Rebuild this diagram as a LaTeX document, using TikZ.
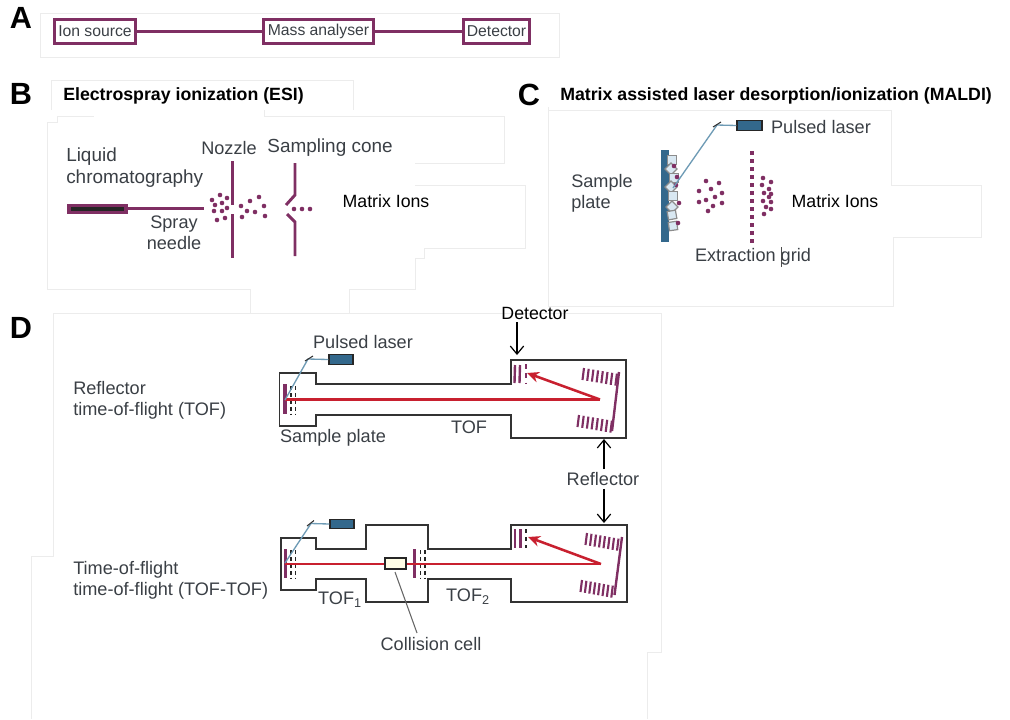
\documentclass[tikz,border=0pt]{standalone}
\usepackage{fontspec}
\setmainfont{Liberation Sans}
\usetikzlibrary{arrows.meta}
\definecolor{plum}{HTML}{7F2F63}
\definecolor{ink}{HTML}{3A3F45}
\definecolor{teal}{HTML}{33688C}
\definecolor{lasr}{HTML}{6E9BB5}
\definecolor{rayred}{HTML}{C8202F}
\definecolor{mask}{HTML}{ECECEC}
\definecolor{wall}{HTML}{333333}
\definecolor{pale}{HTML}{D9E8F2}
\tikzset{
  lab/.style={font=\fontsize{13.6pt}{16pt}\selectfont,text=ink,inner sep=0pt,align=left},
  labb/.style={font=\fontsize{14.2pt}{16.5pt}\selectfont,text=ink,inner sep=0pt,align=left},
  blk/.style={font=\fontsize{13.3pt}{16pt}\selectfont,text=black,inner sep=0pt},
  ttl/.style={font=\bfseries\fontsize{13.3pt}{15pt}\selectfont,text=black,inner sep=0pt,anchor=west},
  pan/.style={font=\bfseries\fontsize{23pt}{25pt}\selectfont,text=black,inner sep=0pt},
  sbox/.style={draw=plum,line width=2.2pt,text=ink,inner sep=0pt,minimum height=17.6pt,font=\fontsize{11.8pt}{13pt}\selectfont},
  faint/.style={draw=mask,line width=0.7pt},
  pl/.style={draw=plum,line width=2.2pt},
  plt/.style={draw=plum,line width=1.8pt},
  wl/.style={draw=wall,line width=1.4pt},
  ray/.style={draw=rayred,line width=1.9pt},
  rayt/.style={draw=rayred,line width=1.6pt},
  beam/.style={draw=lasr,line width=1pt},
  arr/.style={draw=black,line width=0.9pt,-{Straight Barb[length=6pt,width=10pt,line width=0.9pt]}},
  tickm/.style={draw=plum,line width=1.6pt},
  lasbox/.style={draw=black!85,line width=1pt,fill=teal,minimum width=18pt,minimum height=7.2pt,inner sep=0pt},
  dg/.style={draw=black!85,line width=1.4pt,dash pattern=on 3pt off 2.2pt},
}
\newcommand{\mydots}[1]{\foreach \a/\b in {#1}{\fill[plum] (\a,\b) circle (2.3);}}
\begin{document}
\begin{tikzpicture}[x=0.75pt,y=-0.75pt]
\useasboundingbox (0,0) rectangle (1010,719);
% faint mask outlines
\draw[faint] (40,57) -- (40,13) -- (559,13) -- (559,57) -- cycle;
\draw[faint] (51,110) -- (51,80) -- (353,80) -- (353,110);
\draw[faint] (94,116) -- (57,116) -- (57,122) -- (47,122) -- (47,289) -- (250,289) -- (250,313);
\draw[faint] (264,110) -- (264,116) -- (504,116) -- (504,163) -- (415,163);
\draw[faint] (415,185) -- (525,185) -- (525,248) -- (424,248) -- (424,258) -- (415,258) -- (415,289) -- (349,289) -- (349,313);
\draw[faint] (548,107) -- (548,306) -- (893,306) -- (893,237) -- (981,237) -- (981,185) -- (891,185) -- (891,110) -- (548,110);
\draw[faint] (31,719) -- (31,556) -- (53,556) -- (53,313) -- (661,313) -- (661,652) -- (647,652) -- (647,719);
% panel letters
\node[pan] (pA) at (21,18) {A};
\node[pan] (pB) at (21,94) {B};
\node[pan] (pC) at (529,95) {C};
\node[pan] (pD) at (21,328) {D};
% A
\node[sbox,minimum width=61pt] (is) at (95,31.5) {Ion source};
\node[sbox,minimum width=82pt] (ma) at (318.5,31.5) {Mass analyser};
\node[sbox,minimum width=50pt] (de) at (496.5,31.5) {Detector};
\draw[pl] (is) -- (ma);
\draw[pl] (ma) -- (de);
% B
\node[ttl] (tb) at (63,95.5) {Electrospray ionization (ESI)};
\node[ttl] (tc) at (560,95.5) {Matrix assisted laser desorption/ionization (MALDI)};
\node[labb,anchor=west] (lc) at (66,168) {Liquid\\chromatography};
\node[lab] (noz) at (229,148) {Nozzle};
\node[labb] (sc) at (330,148) {Sampling cone};
\node[lab,align=center] (sn) at (174,233) {Spray\\needle};
\node[blk] (mi1) at (386,201) {Matrix Ions};
\fill[plum] (67,204) rectangle (128,214);
\fill[black!85] (71,207) rectangle (124,211);
\coordinate (n1) at (128,208.5);
\coordinate (n2) at (204,208.5);
\draw[pl,line width=2.4pt] (n1) -- (n2);
\draw[pl] (232.5,161) -- (232.5,205);
\draw[pl] (232.5,214) -- (232.5,258);
\draw[pl] (295,163) -- (295,195) -- (286,205);
\draw[pl] (287,214) -- (295,222) -- (295,256);
\mydots{220/195,227/198,212/200,222/203,215/205,227/208,222/211,214/211,217/220,225/218}
\mydots{241/206,250/201,259/197,264/206,247/211,255/212,242/217,265/216}
\mydots{294/209,302/209,310/209}
% C
\fill[teal] (660.5,150) rectangle (668.5,242);
\foreach \x/\y/\r in {672/160/0,671/169/45,674/178/0,671/187/45,673/196/0,672/207/45,672/215/10,673/226/8}{
  \draw[draw=black!45,line width=0.9pt,fill=pale,rotate around={\r:(\x,\y)}] (\x-4.2,\y-4.2) rectangle (\x+4.2,\y+4.2);}
\mydots{674/166,677/177,676/185,679/203,678/223}
\node[lasbox,minimum width=18.7pt] (L1) at (749.5,125.5) {};
\coordinate (m1) at (717,125);
\coordinate (t1) at (673,188);
\draw[beam] (L1.west) -- (m1) -- (t1);
\draw[black!80,line width=0.8pt] (713,127) -- (721,122);
\node[lab] (pl1) at (821,127) {Pulsed laser};
\node[lab,align=left,anchor=west] (sp) at (571,193.5) {Sample\\plate};
\node[lab] (eg) at (753,257) {Extraction grid};
\draw[black!70,line width=0.7pt] (781,247) -- (781,267);
\foreach \y in {153,161,...,243}{\fill[plum] (750,\y-1.8) rectangle (753.5,\y+1.8);}
\mydots{706/181,719/183,699/191,711/189,722/193,699/202,706/200,715/197,722/203,713/206,708/211}
\mydots{763/178,771/182,762/185,769/189,764/193,771/194,769/197,763/201,771/202,766/207,771/209,764/214}
\node[blk] (mi2) at (835,201) {Matrix Ions};
% D top
\node[lab,align=left,anchor=west] (rf) at (73,400) {Reflector\\time-of-flight (TOF)};
\node[lab] (pl2) at (363,342) {Pulsed laser};
\node[lab] (sp2) at (333,438) {Sample plate};
\node[lab] (tof) at (469,427) {TOF};
\node[blk] (det) at (535,313) {Detector};
\node[lab] (ref) at (603,479) {Reflector};
\coordinate (da) at (517,355);
\coordinate (rua) at (604,439);
\coordinate (rda) at (604,523);
\draw[arr] (da |- det.south) ++(0,3) -- (da);
\draw[arr] (rua |- ref.north) ++(0,-3) -- (rua);
\draw[arr] (rda |- ref.south) ++(0,3) -- (rda);
\draw[wl] (279.5,373) -- (316,373) -- (316,384) -- (511,384) -- (511,360) -- (626,360) -- (626,438) -- (511,438) -- (511,415) -- (316,415) -- (316,426) -- (279.5,426) -- cycle;
\fill[plum] (283,384) rectangle (286.5,414);
\draw[dg] (291,386) -- (291,414);
\draw[dg] (295.5,386) -- (295.5,414);
\coordinate (rs1) at (285,399.5);
\coordinate (rt1) at (600,399.5);
\draw[ray] (rs1) -- (rt1);
\node[lasbox] (L2) at (341,359.5) {};
\coordinate (m2) at (308,359);
\coordinate (t2) at (285,400);
\draw[beam] (L2.west) -- (m2) -- (t2);
\draw[black!80,line width=0.8pt] (305,361) -- (313,356);
\draw[plt] (515,365) -- (514.5,383);
\draw[plt] (520,365) -- (519.5,383);
\draw[plum,line width=2pt,dash pattern=on 3.5pt off 3.5pt] (526,364) -- (526,384);
\draw[ray,-{Stealth[length=9pt,width=8pt]}] (rt1) -- (527,373);
\foreach \i in {0,...,7}{
 \draw[tickm] ({584+\i*4.7},{368+\i*0.8}) -- ({582.5+\i*4.7},{380+\i*0.8});
 \draw[tickm] ({579+\i*4.7},{415+\i*0.8}) -- ({577.5+\i*4.7},{427+\i*0.8});
}
\draw[plt] (619,372) -- (612,431);
% D bottom
\node[lab,align=left,anchor=west] (tt) at (73,580) {Time-of-flight\\time-of-flight (TOF-TOF)};
\node[lab] (t1l) at (340,600) {TOF\textsubscript{1}};
\node[lab] (t2l) at (468,597) {TOF\textsubscript{2}};
\node[lab] (cc) at (431,644) {Collision cell};
\draw[wl] (281,538) -- (316,538) -- (316,549) -- (366,549) -- (366,525) -- (428,525) -- (428,549) -- (511,549) -- (511,525) -- (627,525) -- (627,602) -- (511,602) -- (511,579) -- (428,579) -- (428,602) -- (366,602) -- (366,579) -- (316,579) -- (316,590) -- (281,590) -- cycle;
\fill[plum] (284,549) rectangle (286.8,578);
\draw[dg] (291,550) -- (291,578);
\draw[dg] (295.5,550) -- (295.5,578);
\fill[plum] (412.7,549) rectangle (415.5,578);
\draw[dg] (420.5,550) -- (420.5,578);
\draw[dg] (425,550) -- (425,578);
\coordinate (rs2) at (285,564);
\coordinate (rt2) at (601,564);
\draw[rayt] (rs2) -- (rt2);
\node[draw=black!85,line width=1.1pt,fill=yellow!10,minimum width=15.8pt,minimum height=8pt,inner sep=0pt] (cb) at (395.5,563.5) {};
\coordinate (cbt) at (395,572);
\coordinate (cce) at (417,633);
\draw[draw=black!60,line width=0.8pt] (cbt) -- (cce);
\node[lasbox] (L3) at (342,524) {};
\coordinate (m3) at (311,523.5);
\coordinate (t3) at (285,563);
\draw[beam] (L3.west) -- (m3) -- (t3);
\draw[black!80,line width=0.8pt] (307,526) -- (314,520.5);
\draw[plt] (515,529) -- (515,548);
\draw[plt] (520.5,529) -- (520.5,548);
\draw[black!85,line width=1.2pt,dash pattern=on 3pt off 3pt] (526,529) -- (526,548);
\draw[rayt,line width=1.9pt,-{Stealth[length=9pt,width=8pt]}] (rt2) -- (528,537);
\foreach \i in {0,...,7}{
 \draw[tickm] ({587+\i*4.5},{533+\i*0.8}) -- ({585.5+\i*4.5},{545+\i*0.8});
 \draw[tickm] ({582+\i*4.4},{580+\i*0.8}) -- ({580.5+\i*4.4},{592+\i*0.8});
}
\draw[plt] (622,537) -- (614.5,595);
\end{tikzpicture}
\end{document}
